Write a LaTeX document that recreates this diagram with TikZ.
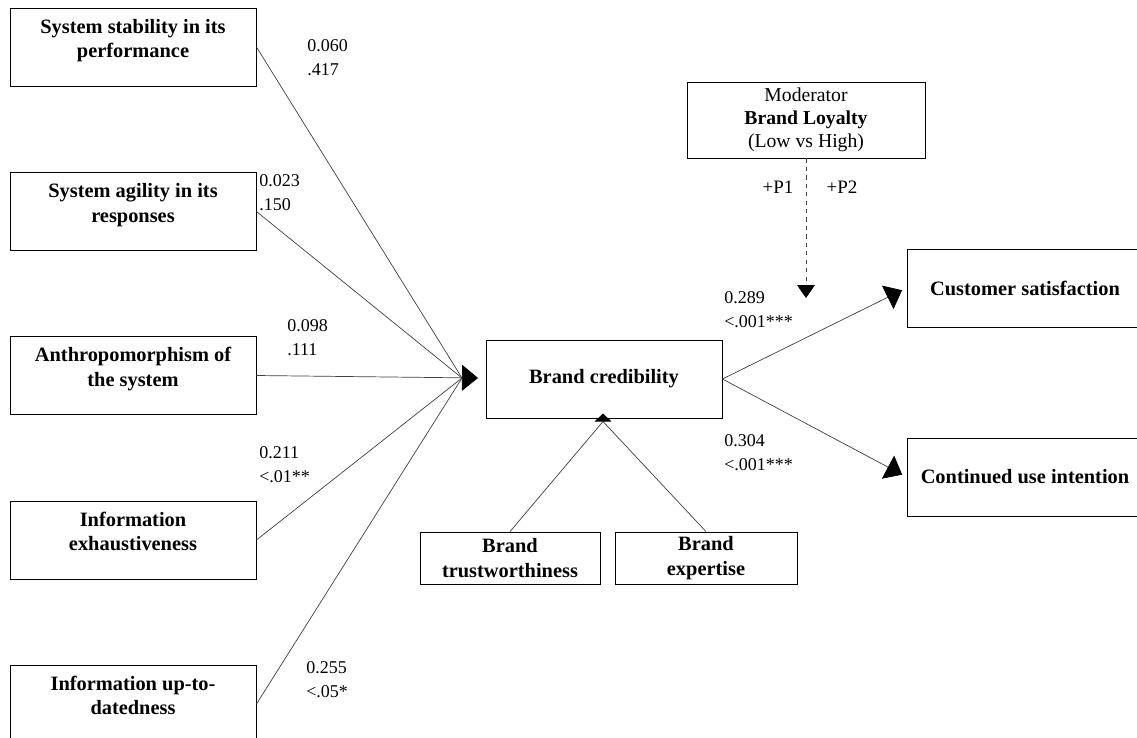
\documentclass[tikz,border=0pt]{standalone}
\usepackage{fontspec}
\setmainfont{Liberation Serif}
\usetikzlibrary{arrows.meta}

\tikzset{
    factor/.style={draw, line width=0.6pt, minimum width=6.15cm, minimum height=1.95cm,
        font=\fontsize{14.5}{17.5}\selectfont\bfseries},
    central/.style={draw, line width=0.6pt, minimum width=5.9cm, minimum height=1.95cm,
        align=center, font=\fontsize{14.5}{17.5}\selectfont\bfseries},
    dimbox/.style={draw, line width=0.6pt, minimum height=1.3cm, inner sep=0pt,
        align=center, font=\fontsize{14.5}{17.5}\selectfont\bfseries},
    coef/.style={anchor=west, align=left, inner sep=0pt, font=\fontsize{12.8}{17}\selectfont},
    link/.style={draw=black!75, line width=0.5pt},
    bigtip/.style={-{Triangle[length=0.4cm,width=0.65cm,black]}},
    modtip/.style={-{Triangle[length=0.32cm,width=0.44cm,black]}},
    smalltip/.style={-{Triangle[length=0.2cm,width=0.42cm,black]}}
}
\newcommand{\lifted}[1]{\raisebox{0.16cm}[\height][\depth]{\begin{tabular}{@{}c@{}}#1\end{tabular}}}

\begin{document}
\begin{tikzpicture}[x=0.025cm, y=-0.025cm]
    \useasboundingbox (0,0) rectangle (1137,737);

    % antecedents
    \node[factor] (stab) at (133,47) {\lifted{System stability in its\\performance}};
    \node[factor] (agil) at (133,211.5) {\lifted{System agility in its\\responses}};
    \node[factor] (anth) at (133,375.5) {\lifted{Anthropomorphism of\\the system}};
    \node[factor] (exha) at (133,540) {\lifted{Information\\exhaustiveness}};
    \node[factor] (upto) at (133,704) {\lifted{Information up-to-\\datedness}};

    % mediator and its dimensions
    \node[central] (cred) at (604,379) {Brand credibility};
    \node[dimbox, minimum width=4.5cm] (trust) at (510,558) {Brand\\trustworthiness};
    \node[dimbox, minimum width=4.55cm] (expert) at (706,558) {Brand\\expertise};

    % outcomes
    \node[central] (sat) at (1025,288) {Customer satisfaction};
    \node[central] (cont) at (1025,477) {Continued use intention};

    % moderator
    \node[draw, line width=0.6pt, minimum width=5.95cm, minimum height=1.9cm, align=center,
        font=\fontsize{14}{16.4}\selectfont] (mod) at (806,120)
        {Moderator\\\textbf{Brand Loyalty}\\(Low vs High)};

    \coordinate (hub) at (462,378);
    \coordinate (credin) at (478,378);
    \coordinate (fork) at (603,421.5);
    \coordinate (credbot) at (603,413.5);
    \coordinate (modend) at (806,298);

    \draw[link] (stab.east) -- (hub);
    \draw[link] (agil.east) -- (hub);
    \draw[link] (exha.east) -- (hub);
    \draw[link] (upto.east) -- (hub);
    \draw[link, bigtip] (anth.east) -- (credin);

    \draw[link, bigtip, shorten >=0.125cm] (cred.east) -- (sat.west);
    \draw[link, bigtip, shorten >=0.125cm] (cred.east) -- (cont.west);

    \draw[link] (trust.north) -- (fork);
    \draw[link] (expert.north) -- (fork);
    \draw[link, smalltip] (fork) -- (credbot);

    \draw[link, dashed, modtip] (mod.south) -- (modend);

    % path coefficients
    \node[coef] (c1) at (307,58) {0.060\\.417};
    \node[coef] (c2) at (259,193) {0.023\\.150};
    \node[coef] (c3) at (287,338) {0.098\\.111};
    \node[coef] (c4) at (259,465) {0.211\\<.01**};
    \node[coef] (c5) at (306,680) {0.255\\<.05*};
    \node[coef] (c6) at (724,310) {0.289\\<.001***};
    \node[coef] (c7) at (724,453) {0.304\\<.001***};

    \node[font=\fontsize{13.5}{15}\selectfont] (p1) at (778,187) {+P1};
    \node[font=\fontsize{13.5}{15}\selectfont] (p2) at (842,187) {+P2};
\end{tikzpicture}
\end{document}
